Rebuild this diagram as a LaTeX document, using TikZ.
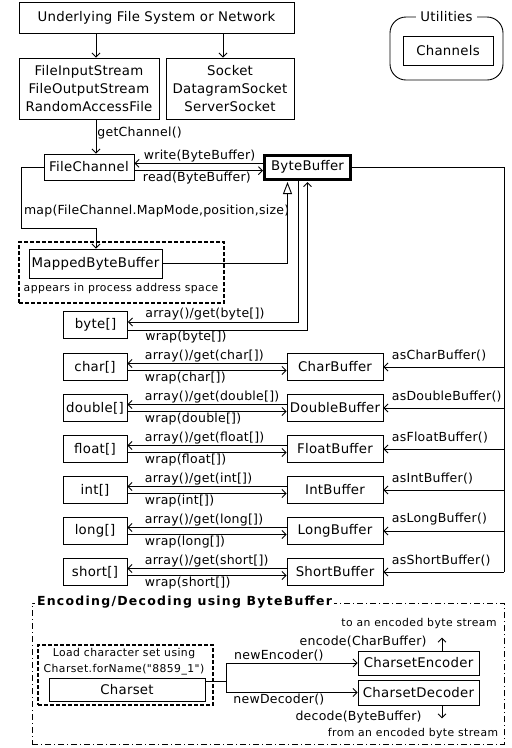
\documentclass[tikz,border=0pt]{standalone}
\usepackage{fontspec}
\setmainfont{DejaVu Sans}
\newfontfamily\boxfam{DejaVu Sans}[LetterSpace=2]
\newfontfamily\lblfam{DejaVu Sans}[LetterSpace=2]
\newfontfamily\notefam{DejaVu Sans}[LetterSpace=4]
\newfontfamily\titlefam{DejaVu Sans}[LetterSpace=10]
\newcommand{\boxf}{\boxfam\fontsize{13.3}{18}\selectfont}
\newcommand{\lblf}{\lblfam\fontsize{12.5}{16}\selectfont}
\newcommand{\notef}{\notefam\fontsize{10.8}{13}\selectfont}
\newcommand{\titlef}{\titlefam\bfseries\fontsize{12.5}{15}\selectfont}
\usetikzlibrary{arrows.meta}

\begin{document}
\begin{tikzpicture}[x=1pt, y=-1pt, line width=0.9pt,
  box/.style={draw, inner sep=0pt, align=center, font=\boxf},
  arrbox/.style={box, minimum width=64, minimum height=27},
  bufbox/.style={box, minimum width=96, minimum height=27},
  lbl/.style={inner sep=1pt, font=\lblf},
  note/.style={inner sep=1pt, font=\notef},
  zone/.style={draw, dash pattern=on 4pt off 2pt, line width=1.4pt, inner sep=0pt},
  arr/.style={-{Straight Barb[length=4pt,width=8pt]}},
  inh/.style={-{Triangle[open,length=12pt,width=9pt]}}]
\useasboundingbox (0,0) rectangle (512,748);

% sources
\node[box, minimum width=275, minimum height=31] (under) at (156.5,17.5) {Underlying File System or Network};
\node[box, minimum width=140, minimum height=61] (fis) at (89,88.5) {FileInputStream\\FileOutputStream\\RandomAccessFile};
\node[box, minimum width=128, minimum height=61] (sock) at (230,88.5) {Socket\\DatagramSocket\\ServerSocket};
\coordinate (colA) at (96,0);
\coordinate (colB) at (223,0);
\draw[arr] (under.south -| colA) -- (fis.north -| colA);
\draw[arr] (under.south -| colB) -- (sock.north -| colB);

% utilities
\node[draw, rounded corners=16pt, minimum width=113, minimum height=63] (utilfr) at (446.5,48.5) {};
\node[box, draw=none, fill=white, inner xsep=4pt, inner ysep=1pt] (utiltitle) at (utilfr.north) {Utilities};
\node[box, minimum width=90, minimum height=29] (chan) at (448,50.5) {Channels};

% channel and byte buffer
\node[box, minimum width=90, minimum height=26] (fc) at (89,167) {FileChannel};
\node[box, line width=3pt, minimum width=86, minimum height=24] (bb) at (307.5,167) {ByteBuffer};
\draw[arr] (fis.south -| colA) -- (fc.north -| colA) node[lbl, right, pos=0.4] {getChannel()};
\draw[arr] ([yshift=3.7pt]bb.west) -- ([yshift=3.7pt]fc.east) node[lbl, above right, xshift=8pt] {write(ByteBuffer)};
\draw[arr] ([yshift=-3.7pt]fc.east) node[lbl, below right, xshift=7pt] {read(ByteBuffer)} -- ([yshift=-3.7pt]bb.west);

% mapped buffer
\node[zone, minimum width=205, minimum height=61] (mapzone) at (121.5,272.5) {};
\node[box, minimum width=133, minimum height=29] (mbb) at (95.5,263.5) {MappedByteBuffer};
\node[note] (maptext) at (121,288.5) {appears in process address space};
\draw[arr] (fc.west) -- ++(-22,0) -- ++(0,61) coordinate (mapc) -| (mbb.north -| colA);
\node[lbl, anchor=west, xshift=1pt] (maplbl) at ([yshift=17pt]mapc) {map(FileChannel.MapMode,position,size)};
\draw[inh] (mbb.east) -| ([xshift=-20pt,yshift=-1.5pt]bb.south);

% byte array
\node[arrbox] (barr) at (95.5,325) {byte[]};
\draw[arr] ([xshift=-9.5pt]bb.south) |- ([yshift=3pt]barr.east) node[lbl, above right, xshift=16pt] {array()/get(byte[])};
\draw[arr] ([yshift=-5pt]barr.east) node[lbl, below right, xshift=16pt] {wrap(byte[])} -| ([yshift=-1.5pt]bb.south);

% typed buffers
\node[arrbox] (carr) at (95,367) {char[]};
\node[bufbox] (cbuf) at (335,367) {CharBuffer};
\node[arrbox] (darr) at (95,408) {double[]};
\node[bufbox] (dbuf) at (335,408) {DoubleBuffer};
\node[arrbox] (farr) at (95,449) {float[]};
\node[bufbox] (fbuf) at (335,449) {FloatBuffer};
\node[arrbox] (iarr) at (95,490) {int[]};
\node[bufbox] (ibuf) at (335,490) {IntBuffer};
\node[arrbox] (larr) at (95,531) {long[]};
\node[bufbox] (lbuf) at (335,531) {LongBuffer};
\node[arrbox] (sarr) at (95,572) {short[]};
\node[bufbox] (sbuf) at (335,572) {ShortBuffer};

\draw[arr] ([yshift=3.5pt]cbuf.west) -- ([yshift=3.5pt]carr.east) node[lbl, above right, xshift=16pt] {array()/get(char[])};
\draw[arr] ([yshift=-3.5pt]carr.east) node[lbl, below right, xshift=16pt] {wrap(char[])} -- ([yshift=-3.5pt]cbuf.west);
\draw[arr] ([yshift=3.5pt]dbuf.west) -- ([yshift=3.5pt]darr.east) node[lbl, above right, xshift=16pt] {array()/get(double[])};
\draw[arr] ([yshift=-3.5pt]darr.east) node[lbl, below right, xshift=16pt] {wrap(double[])} -- ([yshift=-3.5pt]dbuf.west);
\draw[arr] ([yshift=3.5pt]fbuf.west) -- ([yshift=3.5pt]farr.east) node[lbl, above right, xshift=16pt] {array()/get(float[])};
\draw[arr] ([yshift=-3.5pt]farr.east) node[lbl, below right, xshift=16pt] {wrap(float[])} -- ([yshift=-3.5pt]fbuf.west);
\draw[arr] ([yshift=3.5pt]ibuf.west) -- ([yshift=3.5pt]iarr.east) node[lbl, above right, xshift=16pt] {array()/get(int[])};
\draw[arr] ([yshift=-3.5pt]iarr.east) node[lbl, below right, xshift=16pt] {wrap(int[])} -- ([yshift=-3.5pt]ibuf.west);
\draw[arr] ([yshift=3.5pt]lbuf.west) -- ([yshift=3.5pt]larr.east) node[lbl, above right, xshift=16pt] {array()/get(long[])};
\draw[arr] ([yshift=-3.5pt]larr.east) node[lbl, below right, xshift=16pt] {wrap(long[])} -- ([yshift=-3.5pt]lbuf.west);
\draw[arr] ([yshift=3.5pt]sbuf.west) -- ([yshift=3.5pt]sarr.east) node[lbl, above right, xshift=16pt] {array()/get(short[])};
\draw[arr] ([yshift=-3.5pt]sarr.east) node[lbl, below right, xshift=16pt] {wrap(short[])} -- ([yshift=-3.5pt]sbuf.west);

\coordinate (rail) at (504,0);
\draw (bb.east) -| (sbuf.east -| rail);
\draw[arr] (cbuf.east -| rail) -- (cbuf.east) node[lbl, above right, xshift=7pt, yshift=4pt] {asCharBuffer()};
\draw[arr] (dbuf.east -| rail) -- (dbuf.east) node[lbl, above right, xshift=7pt, yshift=4pt] {asDoubleBuffer()};
\draw[arr] (fbuf.east -| rail) -- (fbuf.east) node[lbl, above right, xshift=7pt, yshift=4pt] {asFloatBuffer()};
\draw[arr] (ibuf.east -| rail) -- (ibuf.east) node[lbl, above right, xshift=7pt, yshift=4pt] {asIntBuffer()};
\draw[arr] (lbuf.east -| rail) -- (lbuf.east) node[lbl, above right, xshift=7pt, yshift=4pt] {asLongBuffer()};
\draw[arr] (sbuf.east -| rail) -- (sbuf.east) node[lbl, above right, xshift=7pt, yshift=4pt] {asShortBuffer()};

% encoding and decoding
\node[draw, dash pattern=on 6pt off 3pt on 1pt off 3pt, inner sep=0pt, minimum width=472, minimum height=141] (encfr) at (268,673.5) {};
\node[inner sep=2pt, fill=white, anchor=west, font=\titlef] (enctitle) at ([xshift=3pt]encfr.north west) {Encoding/Decoding using ByteBuffer};
\node[zone, minimum width=175, minimum height=60] (cszone) at (125.5,675) {};
\node[note] (csnote1) at (124,654) {Load character set using};
\node[note] (csnote2) at (124,670) {Charset.forName("8859\_1")};
\node[box, minimum width=156, minimum height=23] (cs) at (127,689.5) {Charset};
\node[box, minimum width=121, minimum height=24] (enc) at (418.5,663) {CharsetEncoder};
\node[box, minimum width=121, minimum height=25] (dec) at (418.5,692.5) {CharsetDecoder};
\draw ([yshift=8.5pt]cs.east) -- ++(21,0) coordinate (jn);
\draw[arr] (jn) |- (enc.west) node[lbl, above, pos=0.7] {newEncoder()};
\draw[arr] (jn) |- (dec.west) node[lbl, below, pos=0.7] {newDecoder()};
\coordinate (colC) at (442,0);
\draw[arr] (enc.north -| colC) -- ++(0,-13) node[lbl, pos=0.7, left, xshift=-14pt] {encode(CharBuffer)};
\node[note] (totext) at (419,624) {to an encoded byte stream};
\draw[arr] (dec.south -| colC) -- ++(0,13) node[lbl, pos=0.9, left, xshift=-19pt] {decode(ByteBuffer)};
\node[note] (fromtext) at (413,734) {from an encoded byte stream};
\end{tikzpicture}
\end{document}
